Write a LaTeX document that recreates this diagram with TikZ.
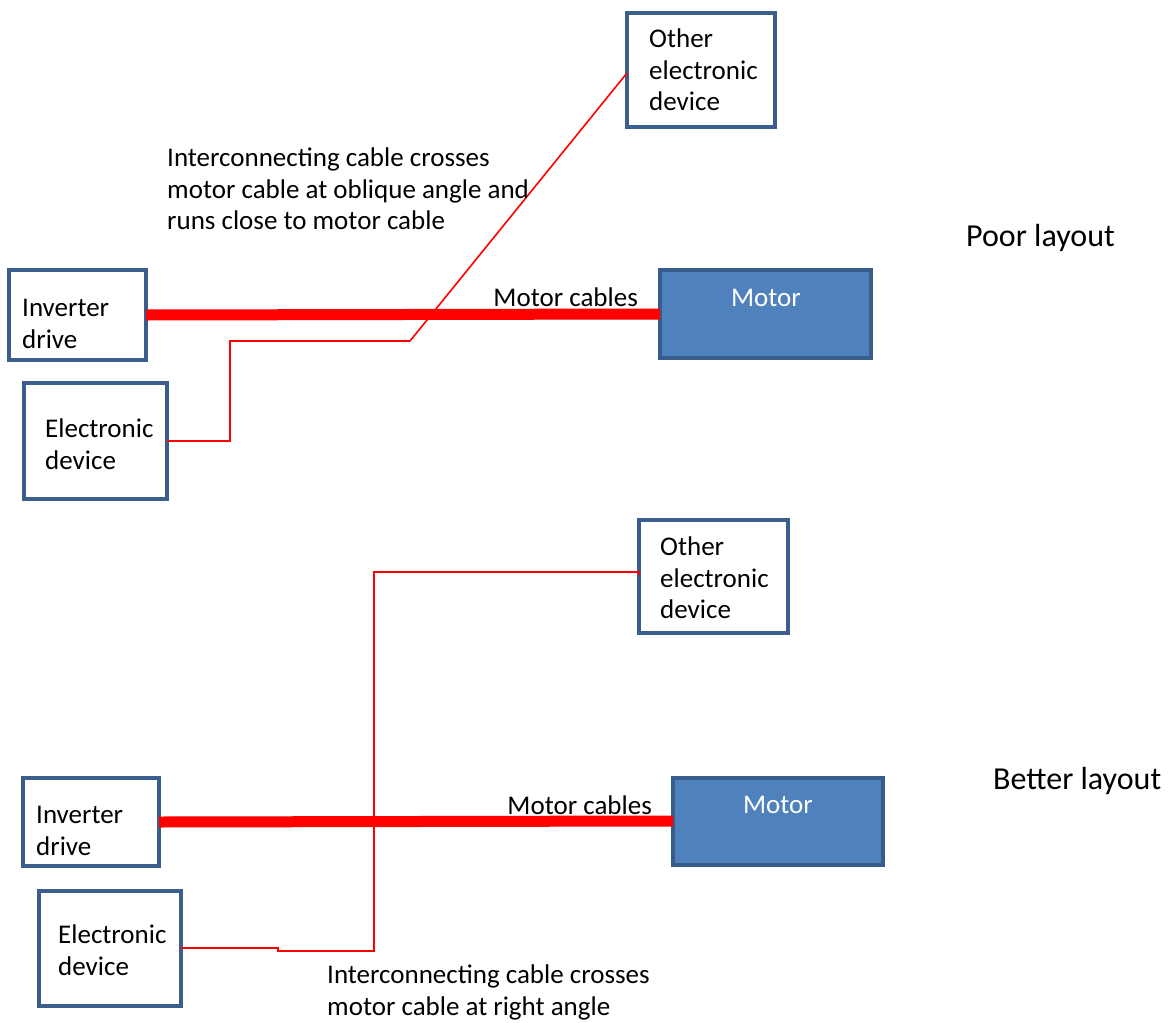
\documentclass[tikz,border=0pt]{standalone}
\usepackage{fontspec}
\setmainfont{Carlito}
\definecolor{boxedge}{HTML}{3B5E8D}
\definecolor{motorfill}{HTML}{4F81BD}
\definecolor{motoredge}{HTML}{385D8A}
\definecolor{cablered}{HTML}{FF0000}
\tikzset{
  devbox/.style={draw=boxedge, line width=4pt, fill=white},
  motorbox/.style={draw=motoredge, line width=4pt, fill=motorfill},
  txt/.style={font=\fontsize{27}{31.5}\selectfont},
  lbl/.style={txt, anchor=north west, align=left, inner sep=0pt},
  heading/.style={anchor=west, inner sep=0pt, font=\fontsize{32}{36}\selectfont},
  motorcable/.style={draw=cablered, line width=11pt},
  signal/.style={draw=cablered, line width=1.6pt},
}
\begin{document}
\begin{tikzpicture}[x=1pt, y=-1pt]
\useasboundingbox (0,0) rectangle (1168,1023);

% ---------- Poor layout ----------
\node[heading] (poor) at (966,238) {Poor layout};

\draw[devbox] (627,13) rectangle (775,127);
\coordinate (oedA) at (627,73);
\node[lbl] (oedAt) at (649,29) {Other\\electronic\\device};

\draw[devbox] (9,270) rectangle (146,360);
\coordinate (invAr) at (146,315);
\node[lbl] (invAt) at (22,299) {Inverter\\drive};

\draw[devbox] (24,383) rectangle (167,499);
\coordinate (edAr) at (167,441);
\node[lbl] (edAt) at (45,419) {Electronic\\device};

\draw[motorbox] (660,270) rectangle (871,358);
\coordinate (motAl) at (660,314);
\node[txt, inner sep=0pt, text=white] (motAt) at (766,298) {Motor};

\draw[motorcable] (invAr) -- (motAl);
\node[txt, anchor=east, inner sep=0pt] (mcA) at (638,297) {Motor cables};

\draw[signal] (edAr) -- (230,441) -- (230,341) -- (410,341) -- (oedA);

\node[lbl] (noteA) at (167,148) {Interconnecting cable crosses\\motor cable at oblique angle and\\runs close to motor cable};

% ---------- Better layout ----------
\node[heading] (better) at (993,781) {Better layout};

\draw[devbox] (639,520) rectangle (788,633);
\coordinate (oedB) at (639,572);
\node[lbl] (oedBt) at (660,537) {Other\\electronic\\device};

\draw[devbox] (23,778) rectangle (159,866);
\coordinate (invBr) at (159,822);
\node[lbl] (invBt) at (36,806) {Inverter\\drive};

\draw[devbox] (39,891) rectangle (181,1006);
\coordinate (edBr) at (181,948);
\node[lbl] (edBt) at (58,925) {Electronic\\device};

\draw[motorbox] (673,778) rectangle (883,865);
\coordinate (motBl) at (673,821);
\node[txt, inner sep=0pt, text=white] (motBt) at (778,805) {Motor};

\draw[motorcable] (invBr) -- (motBl);
\node[txt, anchor=east, inner sep=0pt] (mcB) at (652,805) {Motor cables};

\draw[signal] (edBr) -- (278,948) -- (278,951) -- (374,951) -- (374,572) -- (oedB) -- ++(0,3);

\node[lbl] (noteB) at (327,965) {Interconnecting cable crosses\\motor cable at right angle};
\end{tikzpicture}
\end{document}
